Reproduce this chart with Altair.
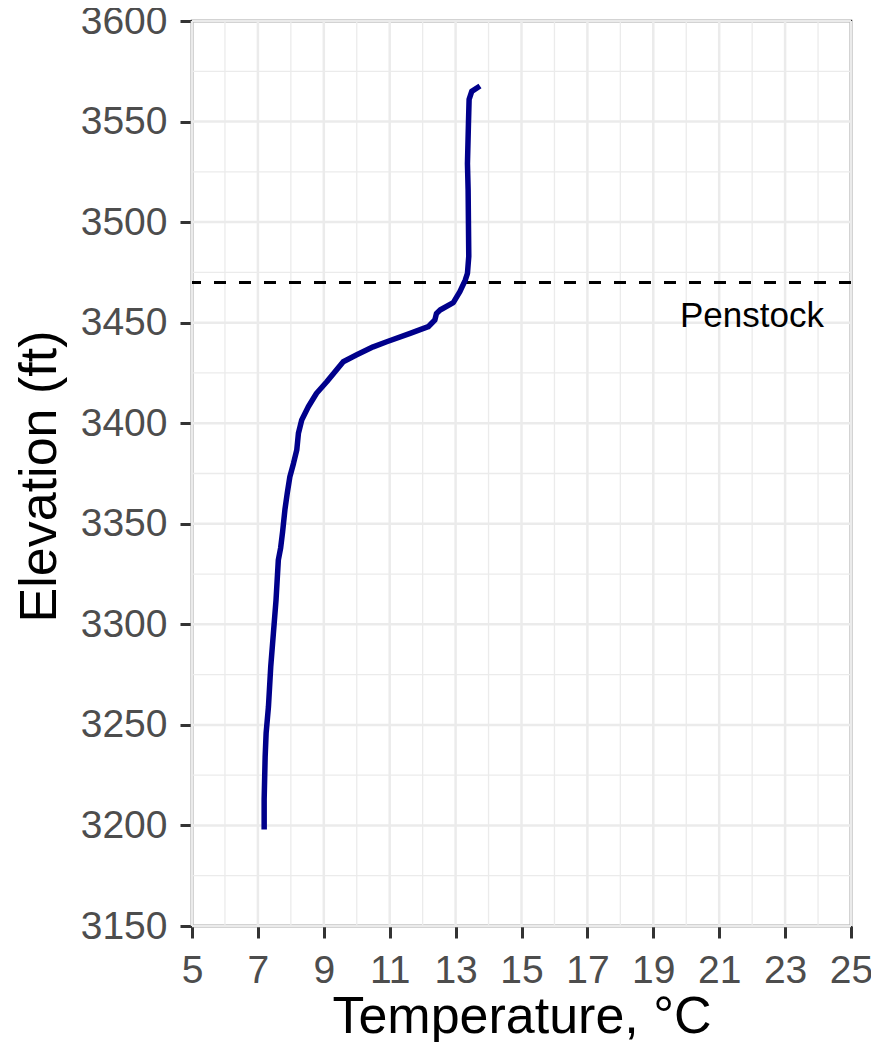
import altair as alt
import pandas as pd

# Temperature profile, top of the water column first
temperature = [13.74, 13.49, 13.41, 13.39, 13.36, 13.38, 13.40, 13.36, 13.29, 13.13,
               12.93, 12.53, 12.42, 12.37, 12.17, 11.62, 10.91, 10.50, 10.00, 9.59,
               9.34, 9.09, 8.78, 8.53, 8.33, 8.23, 8.18, 8.08, 7.97, 7.89,
               7.82, 7.75, 7.69, 7.62, 7.55, 7.47, 7.39, 7.32, 7.25, 7.22,
               7.19, 7.19]
elevation = [3567.7, 3565.0, 3561.0, 3549.0, 3529.0, 3516.0, 3483.0, 3474.5, 3471.0, 3465.4,
             3460.0, 3456.3, 3454.6, 3451.3, 3448.0, 3444.7, 3440.5, 3438.0, 3434.0, 3430.6,
             3425.6, 3420.6, 3414.9, 3408.2, 3401.6, 3395.0, 3386.7, 3380.0, 3373.4, 3365.1,
             3357.0, 3346.0, 3338.0, 3332.0, 3312.0, 3295.5, 3279.0, 3259.0, 3246.0, 3234.0,
             3213.0, 3198.0]

x_major = [5, 7, 9, 11, 13, 15, 17, 19, 21, 23, 25]
x_minor = [6, 8, 10, 12, 14, 16, 18, 20, 22, 24]
y_major = [3150, 3200, 3250, 3300, 3350, 3400, 3450, 3500, 3550, 3600]
y_minor = [3175, 3225, 3275, 3325, 3375, 3425, 3475, 3525, 3575]

penstock_elev = [3470]
label_text = ["Penstock"]
label_temp = [24.18]
label_elev = [3448]

FONT = "Liberation Sans"

xs = alt.Scale(domain=[5, 25], nice=False, zero=False)
ys = alt.Scale(domain=[3150, 3600], nice=False, zero=False)

x_axis = alt.Axis(values=x_major, title="Temperature, °C", grid=False, format="d",
                  labelFlush=False, labelOverlap=False, labelBound=False,
                  titleX=329.5, titleY=106, titleBaseline="alphabetic", titleAlign="center")
y_axis = alt.Axis(values=y_major, title="Elevation (ft)", grid=False, format="d",
                  labelFlush=False, labelOverlap=False,
                  titleX=-137, titleY=455, titleAngle=270, titleBaseline="alphabetic",
                  titleAlign="center")

def X(field="Temperature"):
    return alt.X(f"{field}:Q", scale=xs, axis=x_axis, title="Temperature, °C")

def Y(field="Elevation"):
    return alt.Y(f"{field}:Q", scale=ys, axis=y_axis, title="Elevation (ft)")

profile = pd.DataFrame({"Temperature": temperature, "Elevation": elevation,
                        "order": list(range(len(temperature)))})

grid_x_minor = alt.Chart(pd.DataFrame({"Temperature": x_minor})).mark_rule(
    color="#EBEBEB", strokeWidth=1.3).encode(x=X())
grid_x_major = alt.Chart(pd.DataFrame({"Temperature": x_major})).mark_rule(
    color="#EBEBEB", strokeWidth=2.5).encode(x=X())
grid_y_minor = alt.Chart(pd.DataFrame({"Elevation": y_minor})).mark_rule(
    color="#EBEBEB", strokeWidth=1.3).encode(y=Y())
grid_y_major = alt.Chart(pd.DataFrame({"Elevation": y_major})).mark_rule(
    color="#EBEBEB", strokeWidth=2.5).encode(y=Y())

penstock = alt.Chart(pd.DataFrame({"Elevation": penstock_elev})).mark_rule(
    color="black", strokeWidth=3, strokeDash=[12, 13]).encode(y=Y())

line = alt.Chart(profile).mark_line(
    color="#00008B", strokeWidth=5.5, strokeCap="butt", strokeJoin="round"
).encode(x=X(), y=Y(), order=alt.Order("order:Q"))

label = alt.Chart(pd.DataFrame({"Temperature": label_temp, "Elevation": label_elev,
                                "text": label_text})).mark_text(
    align="right", baseline="alphabetic", fontSize=35, font=FONT, color="black"
).encode(x=X(), y=Y(), text="text:N")

chart = alt.layer(grid_x_minor, grid_x_major, grid_y_minor, grid_y_major,
                  penstock, line, label).properties(
    width=659, height=905,
    autosize=alt.AutoSizeParams(type="none"),
    padding={"left": 184, "top": 13, "right": 20, "bottom": 116},
).configure_view(
    stroke="#333333", strokeWidth=2.5
).configure_axis(
    domain=False,
    labelFont=FONT, labelFontSize=39, labelColor="#4D4D4D", labelPadding=13,
    tickColor="#333333", tickWidth=3, tickSize=12,
    titleFont=FONT, titleFontSize=52, titleColor="black", titleFontWeight="normal",
)

chart.save("out.html", embed_options={"renderer": "svg", "actions": False})
